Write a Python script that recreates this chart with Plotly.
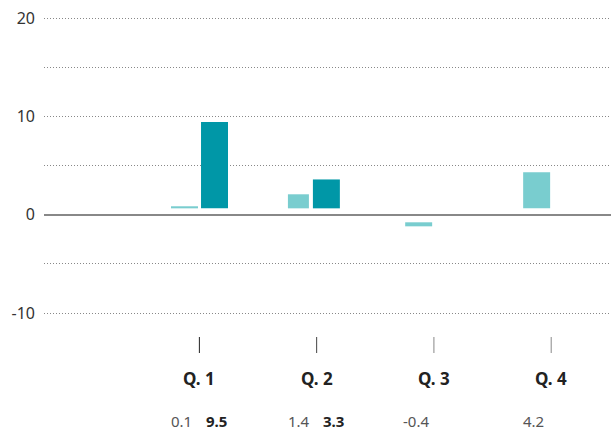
import plotly.graph_objects as go

# ---- data ----
categories = ["Q. 1", "Q. 2", "Q. 3", "Q. 4"]
light_values = [0.1, 1.4, -0.4, 4.2]          # labelled values (light series)
dark_values = [9.5, 3.3, None, None]          # labelled values (dark series)
# bar extents as they appear in the picture (base and top, in axis units)
light_base = [0.66, 0.66, -0.76, 0.66]
light_top = [0.87, 2.09, -1.17, 4.32]
dark_cats = ["Q. 1", "Q. 2"]
dark_base = [0.66, 0.66]
dark_top = [9.44, 3.60]
y_tickvals = [-10, -5, 0, 5, 10, 15, 20]
y_ticktext = ["-10", "", "0", "", "10", "", "20"]

LIGHT = "#79CDCF"
DARK = "#0097A7"
FONT = "Noto Sans"

fig = go.Figure()
fig.add_trace(go.Bar(
    x=categories,
    y=[t - b for t, b in zip(light_top, light_base)],
    base=light_base,
    offset=[-0.242, -0.245, -0.245, -0.239],
    width=[0.230, 0.179, 0.230, 0.230],
    marker=dict(color=LIGHT, line=dict(width=0)),
    hoverinfo="skip", showlegend=False,
))
fig.add_trace(go.Bar(
    x=dark_cats,
    y=[t - b for t, b in zip(dark_top, dark_base)],
    base=dark_base,
    offset=[0.014, -0.032],
    width=[0.230, 0.230],
    marker=dict(color=DARK, line=dict(width=0)),
    hoverinfo="skip", showlegend=False,
))

# category tick marks and labels
tick_colors = ["#222222", "#444444", "#888888", "#888888"]
for i, cat in enumerate(categories):
    fig.add_shape(type="line", xref="x", yref="paper", x0=i, x1=i,
                  y0=1 - 337 / 433, y1=1 - 353 / 433,
                  line=dict(color=tick_colors[i], width=1))
    fig.add_annotation(x=i, xref="x", y=1 - 378 / 433, yref="paper",
                       text=f"<b>{cat}</b>", showarrow=False,
                       font=dict(family=FONT, size=17, color="#222222"),
                       xanchor="center", yanchor="middle")
    lv = light_values[i]
    dv = dark_values[i]
    fig.add_annotation(x=i, xref="x", y=1 - 421 / 433, yref="paper",
                       text=f"{lv:g}", showarrow=False, xshift=-18,
                       font=dict(family=FONT, size=15, color="#555555"),
                       xanchor="center", yanchor="middle")
    if dv is not None:
        fig.add_annotation(x=i, xref="x", y=1 - 421 / 433, yref="paper",
                           text=f"<b>{dv:g}</b>", showarrow=False, xshift=17,
                           font=dict(family=FONT, size=15, color="#222222"),
                           xanchor="center", yanchor="middle")

fig.update_layout(
    width=611, height=433,
    margin=dict(l=44, r=0, t=0, b=0),
    paper_bgcolor="white", plot_bgcolor="white",
    barmode="overlay",
    font=dict(family=FONT, color="#333333"),
    xaxis=dict(type="category", range=[-1.325, 3.51], showticklabels=False,
               showgrid=False, zeroline=False, showline=False, ticks="",
               fixedrange=True),
    yaxis=dict(range=[-22.2, 21.86], tickvals=y_tickvals, ticktext=y_ticktext,
               showgrid=True, gridcolor="#888888", gridwidth=1,
               griddash="1px,2px",
               zeroline=True, zerolinecolor="#888888", zerolinewidth=2,
               showline=False, ticks="", ticklabelstandoff=8,
               tickfont=dict(family=FONT, size=16, color="#333333"),
               fixedrange=True),
)

fig.write_html("out.html")
